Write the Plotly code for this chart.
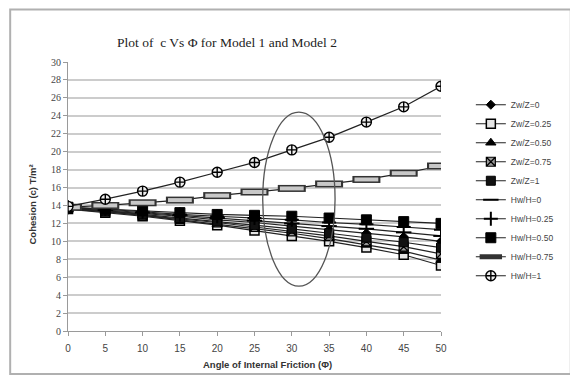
import plotly.graph_objects as go

phi = [0, 5, 10, 15, 20, 25, 30, 35, 40, 45, 50]

zw_0 = [13.7, 13.4, 13.1, 12.8, 12.4, 12.1, 11.7, 11.3, 10.9, 10.5, 10.0]
zw_025 = [13.6, 13.2, 12.8, 12.3, 11.8, 11.2, 10.6, 10.0, 9.3, 8.5, 7.3]
zw_050 = [13.6, 13.3, 12.9, 12.4, 11.9, 11.4, 10.9, 10.3, 9.6, 8.9, 7.9]
zw_075 = [13.7, 13.3, 12.9, 12.5, 12.1, 11.6, 11.1, 10.6, 10.0, 9.4, 8.6]
zw_1 = [13.7, 13.4, 13.0, 12.6, 12.2, 11.8, 11.4, 10.9, 10.4, 9.9, 9.3]
hw_0 = [13.8, 13.5, 13.2, 12.9, 12.6, 12.3, 12.0, 11.7, 11.4, 11.0, 10.6]
hw_025 = [13.8, 13.6, 13.3, 13.0, 12.8, 12.6, 12.4, 12.1, 11.9, 11.6, 11.3]
hw_050 = [13.8, 13.6, 13.4, 13.2, 13.0, 12.9, 12.8, 12.6, 12.4, 12.2, 12.0]
hw_075 = [13.8, 14.0, 14.3, 14.6, 15.1, 15.5, 15.9, 16.4, 16.9, 17.6, 18.4]
hw_1 = [13.9, 14.7, 15.6, 16.6, 17.7, 18.8, 20.2, 21.6, 23.3, 25.0, 27.3]

y_ticks = list(range(0, 31, 2))
x_ticks = list(range(0, 51, 5))

fig = go.Figure()

def add(name, y, symbol, size, color="#000000", lcolor="#000000", lw=1, showlegend=True):
    fig.add_trace(go.Scatter(
        x=phi, y=y, name=name, mode="lines+markers",
        line=dict(color="#222222", width=1.2),
        marker=dict(symbol=symbol, size=size, color=color,
                    line=dict(color=lcolor, width=lw)),
        showlegend=showlegend,
    ))

add("Zw/Z=0", zw_0, "diamond", 7)
add("Zw/Z=0.25", zw_025, "square", 9, color="#e6e6e6", lw=1.5)
add("Zw/Z=0.50", zw_050, "triangle-up", 9)
add("Zw/Z=0.75", zw_075, "square-x", 9, color="#9a9a9a", lw=1.2)
add("Zw/Z=1", zw_1, "square", 9, color="#111111")
add("Hw/H=0", hw_0, "line-ew", 11, lw=2)
add("Hw/H=0.25", hw_025, "cross-thin", 10, lw=2)
add("Hw/H=0.50", hw_050, "square", 10, color="#000000")

# wide bar markers (border + fill)
fig.add_trace(go.Scatter(
    x=phi, y=hw_075, name="Hw/H=0.75", mode="lines+markers",
    line=dict(color="#222222", width=1.2),
    marker=dict(symbol="line-ew", size=20, line=dict(color="#333333", width=7)),
))
fig.add_trace(go.Scatter(
    x=phi, y=hw_075, mode="markers", showlegend=False, hoverinfo="skip",
    marker=dict(symbol="line-ew", size=17, line=dict(color="#c8c8c8", width=4)),
))

add("Hw/H=1", hw_1, "circle-cross", 10, color="#eeeeee", lw=1.4)

fig.add_shape(type="circle", xref="x", yref="y",
              x0=26.1, x1=35.8, y0=5.0, y1=24.4,
              line=dict(color="#555555", width=1.3))

# chart border
fig.add_shape(type="rect", xref="paper", yref="paper",
              x0=-0.155, x1=1.348, y0=-0.16, y1=1.195,
              line=dict(color="#b0b0b0", width=2))

fig.add_annotation(text="Plot of  c Vs Φ for Model 1 and Model 2",
                   xref="paper", yref="paper", x=0.426, y=1.074, yanchor="middle",
                   showarrow=False, font=dict(family="Liberation Serif", size=13.5, color="#222222"))
fig.add_annotation(text="<b>Angle of Internal Friction (Φ)</b>",
                   xref="paper", yref="paper", x=0.534, y=-0.126, yanchor="middle",
                   showarrow=False, font=dict(family="Liberation Sans", size=9.5, color="#333333"))
fig.add_annotation(text="<b>Cohesion (c) T/m²</b>",
                   xref="paper", yref="paper", x=-0.094, y=0.47, textangle=-90,
                   xanchor="center", yanchor="middle",
                   showarrow=False, font=dict(family="Liberation Sans", size=9.5, color="#333333"))

fig.update_xaxes(range=[0, 50], tickvals=x_ticks, showgrid=False, zeroline=False,
                 showline=True, linecolor="#9a9a9a", linewidth=1,
                 ticks="outside", ticklen=4, tickcolor="#9a9a9a",
                 ticklabelstandoff=4,
                 tickfont=dict(family="Liberation Sans", size=10, color="#444444"))
fig.update_yaxes(range=[0, 30], tickvals=y_ticks, showgrid=True, gridcolor="#cccccc", gridwidth=1.5,
                 zeroline=False, showline=True, linecolor="#9a9a9a", linewidth=1,
                 ticks="outside", ticklen=4, tickcolor="#9a9a9a",
                 tickfont=dict(family="Liberation Serif", size=10, color="#444444"))

fig.update_layout(
    width=570, height=370,
    margin=dict(l=60, r=137, t=54, b=47),
    paper_bgcolor="white", plot_bgcolor="white",
    legend=dict(x=1.08, y=0.895, xanchor="left", yanchor="top",
                font=dict(family="Liberation Sans", size=8.5, color="#444444"),
                bgcolor="rgba(0,0,0,0)", itemwidth=30, tracegroupgap=0),
)

fig.write_html("out.html")
